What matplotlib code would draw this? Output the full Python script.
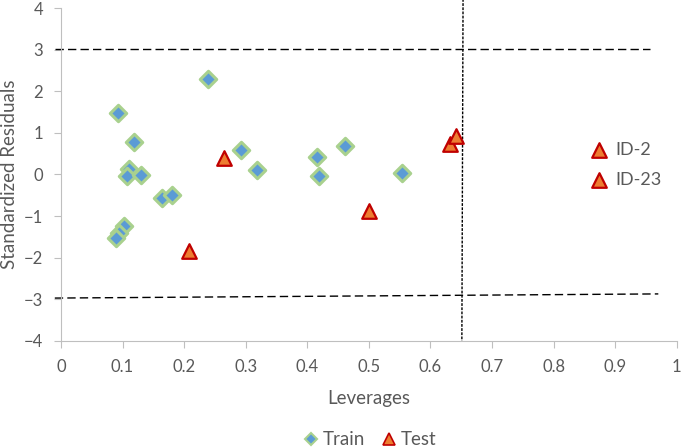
import matplotlib.pyplot as plt
from matplotlib.lines import Line2D

# Williams plot data (leverage, standardized residual)
train_lev = [0.239, 0.092, 0.119, 0.110, 0.108, 0.130, 0.164, 0.181, 0.103, 0.095, 0.090,
             0.292, 0.318, 0.415, 0.461, 0.419, 0.553]
train_res = [2.30, 1.48, 0.78, 0.14, -0.04, -0.01, -0.56, -0.49, -1.24, -1.41, -1.53,
             0.59, 0.11, 0.42, 0.69, -0.04, 0.03]
test_lev = [0.208, 0.265, 0.500, 0.632, 0.642]
test_res = [-1.84, 0.40, -0.88, 0.73, 0.92]

upper_x = [-0.01, 0.957]
upper_y = [3.02, 3.02]
lower_x = [-0.01, 0.97]
lower_y = [-2.97, -2.87]
hstar_x = [0.653, 0.651]
hstar_y = [4.5, -4.0]

plt.rcParams['font.family'] = ['Lato', 'DejaVu Sans']
txt = '#595959'

fig = plt.figure(figsize=(6.85, 4.48), dpi=100)
ax = fig.add_axes([0.089, 0.239, 0.899, 0.743])

diamond = dict(marker='D', s=70, facecolor='#5B9BD5', edgecolor='#A9D18E', linewidths=2.2, zorder=3)
tri = dict(marker='^', s=110, facecolor='#ED7D31', edgecolor='#C00000', linewidths=1.6, zorder=4)

ax.scatter(train_lev, train_res, **diamond)
ax.scatter(test_lev, test_res, **tri)

ax.plot(upper_x, upper_y, color='black', ls=(0, (6, 3)), lw=1, clip_on=False)
ax.plot(lower_x, lower_y, color='black', ls=(0, (6, 3)), lw=1, clip_on=False)
ax.plot(hstar_x, hstar_y, color='black', ls=(0, (2, 1)), lw=1, clip_on=False)

ax.set_xlim(0, 1)
ax.set_ylim(-4, 4)
ax.set_xticks([i / 10 for i in range(11)])
ax.set_xticklabels(['0'] + ['0.%d' % i for i in range(1, 10)] + ['1'])
ax.set_yticks(range(-4, 5))
for s in ['top', 'right']:
    ax.spines[s].set_visible(False)
for s in ['left', 'bottom']:
    ax.spines[s].set_color('#BFBFBF')
ax.tick_params(colors='#BFBFBF', labelcolor=txt, labelsize=12, length=5, pad=8)
ax.set_xlabel('Leverages', fontsize=13.5, color=txt, labelpad=11)
ax.set_ylabel('Standardized Residuals', fontsize=13.5, color=txt, labelpad=4)

# ID annotations on the right
for yy, lab in [(0.58, 'ID-2'), (-0.13, 'ID-23')]:
    ax.scatter([0.873], [yy], **tri, clip_on=False)
    ax.text(0.9, yy, lab, fontsize=13, color=txt, va='center')

handles = [Line2D([], [], marker='D', ls='none', markersize=6, markerfacecolor='#5B9BD5',
                  markeredgecolor='#A9D18E', markeredgewidth=1.5, label='Train'),
           Line2D([], [], marker='^', ls='none', markersize=8, markerfacecolor='#ED7D31',
                  markeredgecolor='#C00000', markeredgewidth=1.2, label='Test')]
fig.legend(handles=handles, loc='center', bbox_to_anchor=(0.54, 0.018), ncol=2, frameon=False,
           fontsize=13.5, labelcolor=txt, handlelength=0.8, handletextpad=0.2, columnspacing=0.9)

fig.savefig('out.png', dpi=100)
